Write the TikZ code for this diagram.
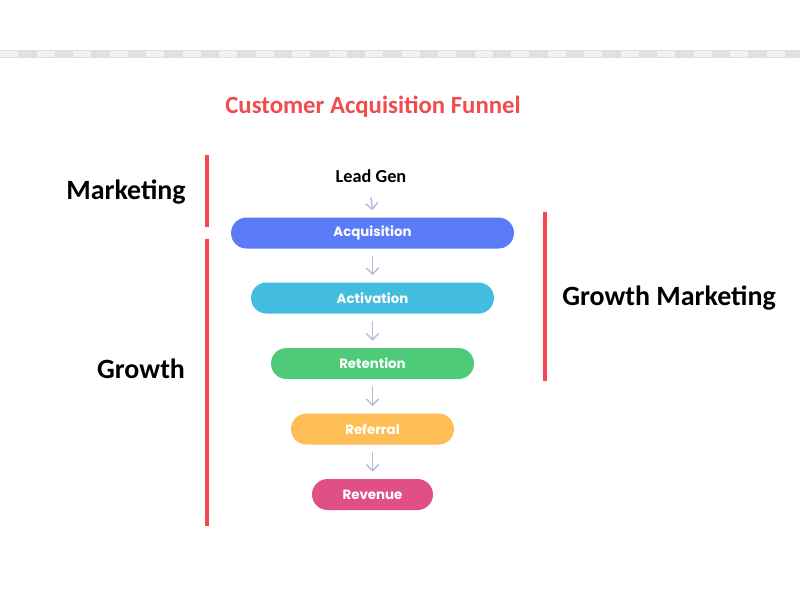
\documentclass[tikz,border=0pt]{standalone}
\usepackage{fontspec}
\setmainfont{Carlito}
\newfontfamily\stagefont{Poppins}
\usetikzlibrary{arrows.meta}

\definecolor{titlered}{HTML}{F24B4B}
\definecolor{barred}{HTML}{F4474F}
\definecolor{arrowgray}{HTML}{B9B9D9}
\definecolor{acqblue}{HTML}{5B7CF9}
\definecolor{actcyan}{HTML}{43BDDF}
\definecolor{retgreen}{HTML}{4DCB78}
\definecolor{refyellow}{HTML}{FFBD55}
\definecolor{revpink}{HTML}{E05086}

\tikzset{
  stage/.style={rounded corners=0.31cm, minimum height=0.62cm, inner sep=0pt,
    text=white, font=\stagefont\bfseries\fontsize{7.6}{9}\selectfont},
  flow/.style={draw=arrowgray, line width=0.8pt, -{Straight Barb[length=3.5pt,width=7pt]}},
  bar/.style={draw=barred, line width=2.1pt},
  side/.style={font=\bfseries\fontsize{15.9}{18}\selectfont}
}

\begin{document}
\begin{tikzpicture}[x=0.02cm, y=-0.02cm]
  \useasboundingbox[fill=white] (0,0) rectangle (800,600);

  % Checkered strip at the top
  \fill[gray!24] (0,50) rectangle (800,58);
  \foreach \i in {0,...,21}
    \fill[gray!11] (\i*36.5,51) rectangle (\i*36.5+18,57);

  % Title
  \node[text=titlered, font=\bfseries\fontsize{14.1}{16}\selectfont] (title) at (373,107) {Customer Acquisition Funnel};

  % Funnel stages
  \node[font=\bfseries\fontsize{10.4}{12}\selectfont] (lead) at (371,176) {Lead Gen};
  \node[stage, fill=acqblue, minimum width=5.66cm] (acq) at (372.5,233) {Acquisition};
  \node[stage, fill=actcyan, minimum width=4.86cm] (act) at (372.5,298) {Activation};
  \node[stage, fill=retgreen, minimum width=4.06cm] (ret) at (372.5,363.5) {Retention};
  \node[stage, fill=refyellow, minimum width=3.26cm] (ref) at (372.5,429) {Referral};
  \node[stage, fill=revpink, minimum width=2.42cm] (rev) at (372.5,494.5) {Revenue};

  % Arrows between stages
  \draw[flow] ([yshift=-5pt]lead.south) -- ([yshift=4pt]acq.north);
  \foreach \a/\b in {acq/act, act/ret, ret/ref, ref/rev}
    \draw[flow] ([yshift=-4pt]\a.south) -- ([yshift=4pt]\b.north);

  % Side brackets
  \coordinate (mktop) at (207,155);
  \coordinate (mkbot) at (207,227);
  \coordinate (grtop) at (207,239);
  \coordinate (grbot) at (207,526);
  \coordinate (gmtop) at (545,212);
  \coordinate (gmbot) at (545,381);
  \draw[bar] (mktop) -- (mkbot);
  \draw[bar] (grtop) -- (grbot);
  \draw[bar] (gmtop) -- (gmbot);

  % Side labels
  \node[side] (mk) at (126,192) {Marketing};
  \node[side] (gr) at (141,369) {Growth};
  \node[side] (gm) at (669,298) {Growth Marketing};
\end{tikzpicture}
\end{document}
